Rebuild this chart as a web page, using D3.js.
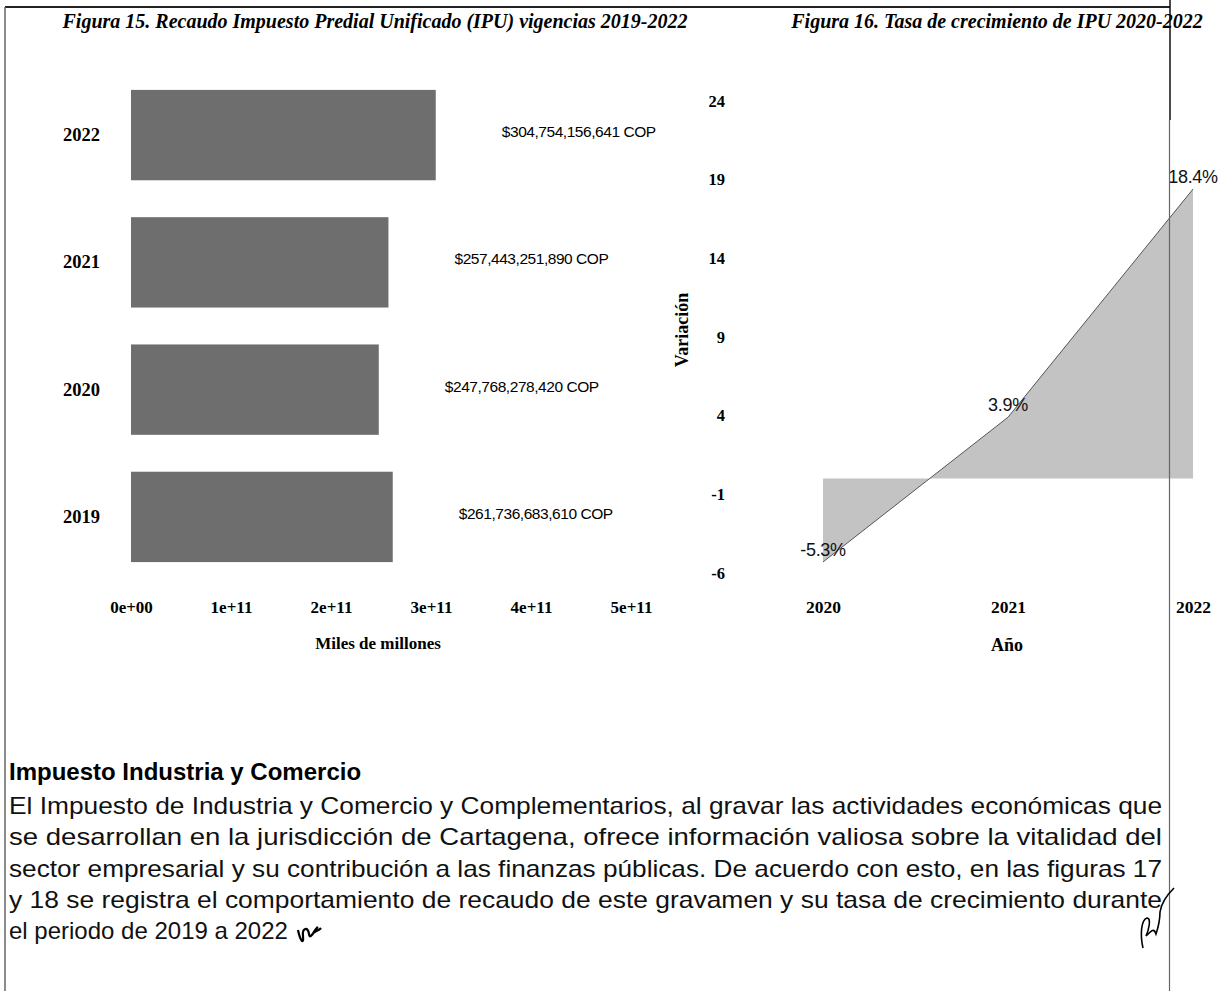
<!DOCTYPE html>
<html>
<head>
<meta charset="utf-8">
<script src="https://cdn.jsdelivr.net/npm/d3@7"></script>
<style>
  html, body { margin: 0; padding: 0; background: #fff; }
  svg { display: block; }
</style>
</head>
<body>
<svg id="page" width="1224" height="991"></svg>
<script>
// Recaudo IPU por vigencia (COP)
const years = ["2022", "2021", "2020", "2019"];
const recaudo = [304754156641, 257443251890, 247768278420, 261736683610];
const recaudoLabels = ["$304,754,156,641 COP", "$257,443,251,890 COP", "$247,768,278,420 COP", "$261,736,683,610 COP"];
const recaudoTicks = [0, 1e11, 2e11, 3e11, 4e11, 5e11];
const recaudoTickLabels = ["0e+00", "1e+11", "2e+11", "3e+11", "4e+11", "5e+11"];

// Tasa de crecimiento anual del IPU (%)
const growthYears = ["2020", "2021", "2022"];
const growthValues = [-5.3, 3.9, 18.4];
const growthTicks = [-6, -1, 4, 9, 14, 19, 24];

const svg = d3.select("#page");
const serif = "'Liberation Serif', 'Times New Roman', serif";
const sans = "'Liberation Sans', Arial, sans-serif";
const loc = d3.formatLocale({ decimal: ".", thousands: ",", grouping: [3], currency: ["$", ""], minus: "-" });

// ---- page frame ----
svg.append("line").attr("x1", 5).attr("x2", 1170).attr("y1", 7).attr("y2", 7)
  .attr("stroke", "#222").attr("stroke-width", 2);
svg.append("line").attr("x1", 5).attr("x2", 5).attr("y1", 7).attr("y2", 991)
  .attr("stroke", "#666").attr("stroke-width", 1.5);

// ---- Figura 15: horizontal bars ----
svg.append("text").attr("x", 375).attr("y", 28).attr("text-anchor", "middle")
  .attr("font-family", serif).attr("font-style", "italic").attr("font-weight", "bold")
  .attr("font-size", 20)
  .text("Figura 15. Recaudo Impuesto Predial Unificado (IPU) vigencias 2019-2022");

const xBar = d3.scaleLinear().domain([0, 5e11]).range([131, 631]);
const yBar = d3.scaleBand().domain(years).range([53, 599]).paddingInner(0.29).paddingOuter(0.29);

const bars = svg.append("g");
bars.selectAll("rect").data(years).join("rect")
  .attr("x", xBar(0))
  .attr("y", d => yBar(d))
  .attr("width", (d, i) => xBar(recaudo[i]) - xBar(0))
  .attr("height", yBar.bandwidth())
  .attr("fill", "#6e6e6e");

bars.selectAll("text.val").data(years).join("text").attr("class", "val")
  .attr("x", (d, i) => xBar(recaudo[i] + 1.43e11))
  .attr("y", d => yBar(d) + yBar.bandwidth() / 2 + 2)
  .attr("text-anchor", "middle")
  .attr("font-family", sans).attr("font-size", 15.5)
  .attr("letter-spacing", -0.45)
  .text((d, i) => recaudoLabels[i]);

const yAxisBar = svg.append("g").attr("transform", "translate(100,0)")
  .call(d3.axisLeft(yBar).tickSize(0).tickPadding(0));
yAxisBar.select(".domain").remove();
yAxisBar.selectAll("text").attr("font-family", serif).attr("font-weight", "bold")
  .attr("font-size", 18.5).attr("fill", "#000");

const xAxisBar = svg.append("g").attr("transform", "translate(0,601)")
  .call(d3.axisBottom(xBar).tickValues(recaudoTicks)
    .tickFormat((d, i) => recaudoTickLabels[i]).tickSize(0).tickPadding(0));
xAxisBar.select(".domain").remove();
xAxisBar.selectAll("text").attr("font-family", serif).attr("font-weight", "bold")
  .attr("font-size", 17).attr("fill", "#000");

svg.append("text").attr("x", 378).attr("y", 649).attr("text-anchor", "middle")
  .attr("font-family", serif).attr("font-weight", "bold").attr("font-size", 17)
  .text("Miles de millones");

// ---- Figura 16: growth area ----
svg.append("text").attr("x", 997).attr("y", 28).attr("text-anchor", "middle")
  .attr("font-family", serif).attr("font-style", "italic").attr("font-weight", "bold")
  .attr("font-size", 20)
  .text("Figura 16. Tasa de crecimiento de IPU 2020-2022");

const xG = d3.scalePoint().domain(growthYears).range([823, 1193]);
const yG = d3.scaleLinear().domain([-6, 24]).range([573, 101]);
const growth = growthYears.map((y, i) => ({ year: y, value: growthValues[i] }));

svg.append("path").datum(growth)
  .attr("d", d3.area().x(d => xG(d.year)).y0(yG(0)).y1(d => yG(d.value)))
  .attr("fill", "#c3c3c3");
svg.append("path").datum(growth)
  .attr("d", d3.line().x(d => xG(d.year)).y(d => yG(d.value)))
  .attr("fill", "none").attr("stroke", "#555").attr("stroke-width", 1);

svg.append("g").selectAll("text").data(growth).join("text")
  .attr("x", d => xG(d.year))
  .attr("y", d => yG(d.value) - 6)
  .attr("text-anchor", "middle")
  .attr("font-family", sans).attr("font-size", 18).attr("fill", "#111")
  .attr("letter-spacing", -0.3)
  .text(d => loc.format(".1f")(d.value) + "%");

const yAxisG = svg.append("g").attr("transform", "translate(725,0)")
  .call(d3.axisLeft(yG).tickValues(growthTicks).tickFormat(loc.format("d")).tickSize(0).tickPadding(0));
yAxisG.select(".domain").remove();
yAxisG.selectAll("text").attr("font-family", serif).attr("font-weight", "bold")
  .attr("font-size", 16.5).attr("fill", "#000");

const xAxisG = svg.append("g").attr("transform", "translate(0,601)")
  .call(d3.axisBottom(xG).tickSize(0).tickPadding(0));
xAxisG.select(".domain").remove();
xAxisG.selectAll("text").attr("font-family", serif).attr("font-weight", "bold")
  .attr("font-size", 17.5).attr("fill", "#000");

svg.append("text").attr("x", 1007).attr("y", 651).attr("text-anchor", "middle")
  .attr("font-family", serif).attr("font-weight", "bold").attr("font-size", 18)
  .text("Año");

svg.append("text").attr("transform", "translate(688,330) rotate(-90)")
  .attr("text-anchor", "middle")
  .attr("font-family", serif).attr("font-weight", "bold").attr("font-size", 18)
  .text("Variación");

// right page edge (drawn over the chart)
svg.append("line").attr("x1", 1170).attr("x2", 1170).attr("y1", 0).attr("y2", 120)
  .attr("stroke", "#111").attr("stroke-width", 1.5);
svg.append("line").attr("x1", 1169.5).attr("x2", 1169.5).attr("y1", 120).attr("y2", 991)
  .attr("stroke", "#666").attr("stroke-width", 1.2);

// ---- body text ----
svg.append("text").attr("x", 9).attr("y", 780)
  .attr("font-family", sans).attr("font-weight", "bold").attr("font-size", 24)
  .text("Impuesto Industria y Comercio");

const paragraph = [
  "El Impuesto de Industria y Comercio y Complementarios, al gravar las actividades económicas que",
  "se desarrollan en la jurisdicción de Cartagena, ofrece información valiosa sobre la vitalidad del",
  "sector empresarial y su contribución a las finanzas públicas. De acuerdo con esto, en las figuras 17",
  "y 18 se registra el comportamiento de recaudo de este gravamen y su tasa de crecimiento durante",
  "el periodo de 2019 a 2022"
];
svg.append("g").selectAll("text").data(paragraph).join("text")
  .attr("x", 9)
  .attr("y", (d, i) => 814 + i * 31.3)
  .attr("font-family", sans).attr("font-size", 24)
  .attr("fill", "#111")
  .each(function (d, i) {
    if (i < paragraph.length - 1) {
      d3.select(this).attr("textLength", 1153).attr("lengthAdjust", "spacingAndGlyphs");
    }
  })
  .text(d => d);

// handwritten initials
svg.append("path")
  .attr("d", "M298,930 C300,940 304,946 303,936 C302,928 308,926 309,934 C310,941 314,930 318,927 M312,935 C314,930 318,932 321,928")
  .attr("fill", "none").attr("stroke", "#000").attr("stroke-width", 2.2);
svg.append("path")
  .attr("d", "M1143,948 C1140,935 1141,920 1147,918 C1152,918 1148,932 1146,936 C1152,930 1154,928 1156,934 C1158,928 1160,922 1160,912 C1161,905 1165,897 1174,888")
  .attr("fill", "none").attr("stroke", "#000").attr("stroke-width", 1.6);
</script>
</body>
</html>
